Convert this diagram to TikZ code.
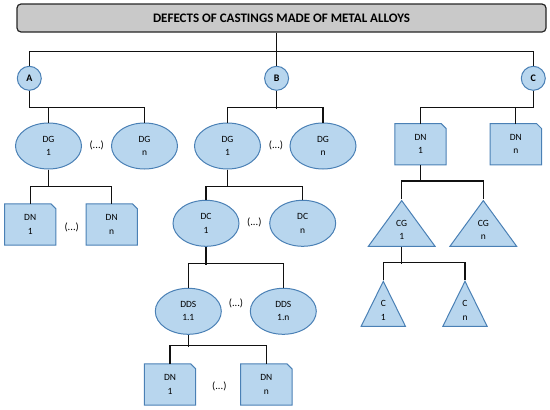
\documentclass[tikz,border=0pt]{standalone}
\usepackage{fontspec}
\setmainfont{Carlito}
\usetikzlibrary{shapes.geometric,backgrounds}
\definecolor{treefill}{HTML}{B8D6EE}
\definecolor{treeedge}{HTML}{4A80B5}
\definecolor{headfill}{HTML}{C9C9C9}
\definecolor{headedge}{HTML}{262626}
\definecolor{linkink}{HTML}{111111}

\begin{document}
\begin{tikzpicture}[
  x=1pt,
  y=-1pt,
  every node/.style={font=\fontsize{9.5}{13.3}\selectfont, align=center, inner sep=0pt},
  header/.style={draw=headedge, fill=headfill, line width=1.2pt, rounded corners=4pt,
    minimum width=529pt, minimum height=28pt, font=\fontsize{13}{15}\selectfont\bfseries},
  hub/.style={circle, draw=treeedge, fill=treefill, line width=1pt, minimum size=24pt,
    font=\fontsize{10}{11}\selectfont\bfseries},
  group/.style={ellipse, draw=treeedge, fill=treefill, line width=1pt,
    minimum width=66pt, minimum height=46pt},
  defect/.style={rectangle, minimum width=51pt, minimum height=41pt},
  defectline/.style={draw=treeedge, fill=treefill, line width=1pt},
  cluster/.style={isosceles triangle, shape border rotate=90, isosceles triangle stretches,
    draw=treeedge, fill=treefill, line width=1pt, anchor=apex},
  link/.style={draw=linkink, line width=1.3pt},
  dots/.style={font=\fontsize{10.5}{12}\selectfont}
]
  \useasboundingbox (0,0) rectangle (550,410);

  % ---- title and the three families ------------------------------------
  \node[header] (title) at (281.5,18) {DEFECTS OF CASTINGS MADE OF METAL ALLOYS};
  \node[hub] (hubA) at (29.3,78.3)  {A};
  \node[hub] (hubB) at (276.6,78.3) {B};
  \node[hub] (hubC) at (533.3,78.3) {C};

  % ---- branch A --------------------------------------------------------
  \node[group]  (dgA1) at (48.5,146)   {DG\\1};
  \node[group]  (dgAn) at (144.5,146)  {DG\\n};
  \node[dots]   (dotsDgA) at (96.7,145) {(...)};
  \node[defect] (dnA1) at (30.2,224.5)  {DN\\1};
  \node[defect] (dnAn) at (111.7,224.5) {DN\\n};
  \node[dots]   (dotsDnA) at (71.7,227) {(...)};

  % ---- branch B --------------------------------------------------------
  \node[group]  (dgB1)  at (227.5,146)   {DG\\1};
  \node[group]  (dgBn)  at (323,146)     {DG\\n};
  \node[dots]   (dotsDgB) at (276,145)   {(...)};
  \node[group]  (dcB1)  at (206,223.3)   {DC\\1};
  \node[group]  (dcBn)  at (302.7,223.3) {DC\\n};
  \node[dots]   (dotsDcB) at (254.3,222.7) {(...)};
  \node[group]  (ddsB1) at (188.3,311.3) {DDS\\1.1};
  \node[group]  (ddsBn) at (283.3,311.3) {DDS\\1.n};
  \node[dots]   (dotsDdsB) at (236,303.3) {(...)};
  \node[defect] (dnB1)  at (170,384.5)   {DN\\1};
  \node[defect] (dnBn)  at (266.3,384.5) {DN\\n};
  \node[dots]   (dotsDnB) at (219.3,386) {(...)};

  % ---- branch C --------------------------------------------------------
  \node[defect] (dnC1) at (420.5,144.2) {DN\\1};
  \node[defect] (dnCn) at (515.8,144.2) {DN\\n};
  \node[cluster, minimum width=66.7pt, minimum height=45.7pt] (cgC1) at (401.7,199.3) {CG\\1};
  \node[cluster, minimum width=66.7pt, minimum height=45.7pt] (cgCn) at (483.3,199.3) {CG\\n};
  \node[cluster, minimum width=44.3pt, minimum height=45pt] (cC1) at (383.3,280) {C\\1};
  \node[cluster, minimum width=44.3pt, minimum height=45pt] (cCn) at (465,280)   {C\\n};

  % ---- note boxes with the cut corner, behind their text ---------------
  \begin{scope}[on background layer]
    \foreach \n in {dnA1,dnAn,dnB1,dnBn,dnC1,dnCn}
      \draw[defectline] (\n.south west) -- (\n.north west)
        -- ([xshift=-5pt]\n.north east) -- ([yshift=-5pt]\n.north east)
        -- (\n.south east) -- cycle;
  \end{scope}

  % ---- connectors ------------------------------------------------------
  \draw[link] (title.south -| hubB) -- (hubB.north);
  \draw[link] (hubA.north) |- ([yshift=14.3pt]hubB.north) -| (hubC.north);

  \draw[link] (hubA.south) |- ([yshift=14.7pt]dgAn.north) -- (dgAn.north);
  \draw[link] (dgA1.north) -- ++(0,-14.7);
  \draw[link] (dnA1.north) |- ([yshift=17.3pt]dnAn.north) -- (dnAn.north);
  \draw[link] (dgA1.south) -- ++(0,17.7);

  \draw[link] (dgB1.north) |- ([yshift=14.7pt]dgBn.north) -- (dgBn.north);
  \draw[link] (hubB.south) -- ++(0,18);
  \draw[link] (dcB1.north) |- ([yshift=13.6pt]dcBn.north) -- (dcBn.north);
  \draw[link] (dgB1.south) -- ++(0,17.7);
  \draw[link] (ddsB1.north) |- ([yshift=24.3pt]ddsBn.north) -- (ddsBn.north);
  \draw[link] (dcB1.south) -- ++(0,17.7);
  \draw[link] (dnB1.north) |- ([yshift=18pt]dnBn.north) -- (dnBn.north);
  \draw[link] (ddsB1.south) -- ++(0,11.7);

  \draw[link] (hubC.south) |- ([yshift=15.7pt]dnC1.north) -- (dnC1.north);
  \draw[link] (dnCn.north) -- ++(0,-15.7);
  \draw[link] (cgC1.apex) |- ([yshift=18.3pt]cgCn.apex) -- (cgCn.apex);
  \draw[link] (dnC1.south) -- ++(0,16.5);
  \draw[link] (cC1.apex) |- ([yshift=17.7pt]cCn.apex) -- (cCn.apex);
  \draw[link] (cgC1.lower side) -- ++(0,17.3);
\end{tikzpicture}
\end{document}
